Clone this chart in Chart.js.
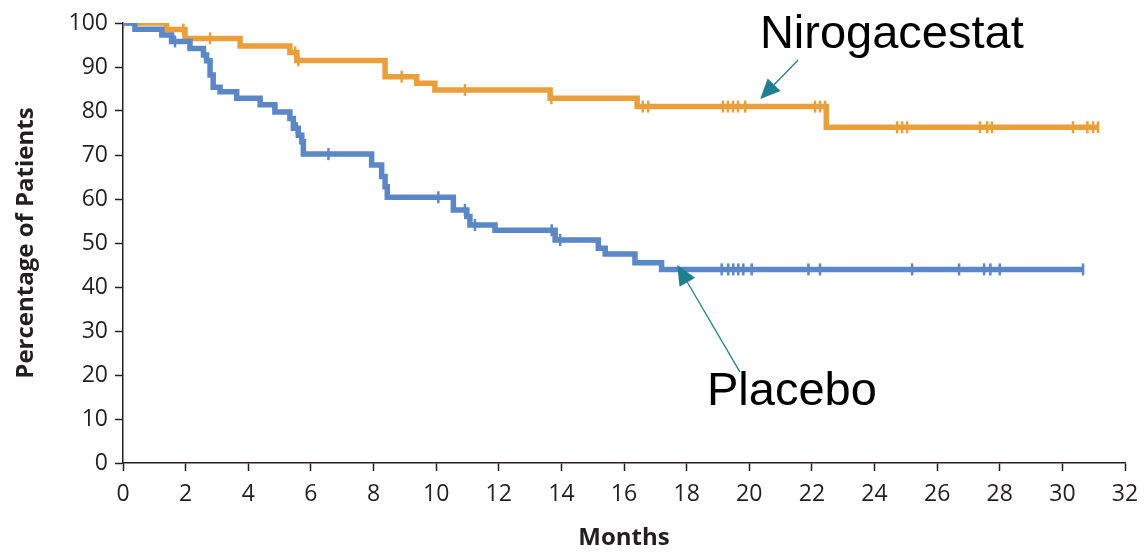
<!DOCTYPE html>
<html>
<head>
<meta charset="utf-8">
<script src="https://cdn.jsdelivr.net/npm/chart.js@4.4.1/dist/chart.umd.min.js"></script>
<style>
  html, body { margin: 0; padding: 0; background: #ffffff; }
  #wrap { width: 1145px; height: 553px; position: relative; }
</style>
</head>
<body>
<div id="wrap"><canvas id="c" width="1145" height="553"></canvas></div>
<script>
// ---- Data ----
const xTickLabels = [0, 2, 4, 6, 8, 10, 12, 14, 16, 18, 20, 22, 24, 26, 28, 30, 32];
const yTickLabels = [0, 10, 20, 30, 40, 50, 60, 70, 80, 90, 100];

const nirogacestatTimes = [0, 1.39, 1.98, 3.74, 5.33, 5.55, 8.37, 9.38, 9.96, 13.64, 16.42, 22.46, 31.14];
const nirogacestatSurv  = [100, 98.5, 96.5, 94.8, 93.3, 91.5, 87.8, 86.3, 84.8, 82.9, 81.0, 76.3, 76.3];
const nirogacestatCensor = [1.93, 2.78, 5.5, 5.6, 8.9, 10.92, 13.68, 16.6, 16.77, 19.16, 19.32, 19.48, 19.64, 19.87,
                            22.1, 22.26, 22.42, 24.72, 24.88, 25.04, 27.37, 27.6, 27.75, 30.34, 30.8, 30.98, 31.14];

const placeboTimes = [0, 0.38, 1.24, 1.55, 2.14, 2.57, 2.67, 2.78, 2.88, 3.1, 3.63, 4.38, 4.85, 5.33, 5.44, 5.6, 5.71, 5.76,
                      7.94, 8.26, 8.37, 8.44, 10.55, 10.98, 11.08, 11.88, 13.8, 15.18, 15.4, 16.35, 17.2, 30.66];
const placeboSurv  = [100, 98.6, 97.3, 95.8, 94.2, 92.7, 91.4, 88.2, 85.4, 84.4, 82.9, 81.4, 79.8, 78.3, 76.1, 74.5, 73.0, 70.2,
                      67.7, 65.1, 62.8, 60.4, 57.5, 56.0, 54.1, 52.9, 50.7, 48.8, 47.5, 45.5, 44.0, 44.0];
const placeboCensor = [0, 1.66, 5.55, 6.56, 10.07, 10.92, 11.24, 13.69, 13.96, 19.12, 19.33, 19.49, 19.65, 19.81, 20.08,
                       21.89, 22.26, 25.2, 26.7, 27.5, 27.7, 28.0, 30.66];

const seriesNames = ['Nirogacestat', 'Placebo'];

// ---- Styling ----
const ORANGE = '#E9A03C';
const BLUE = '#5B87C6';
const TEAL = '#1F7F8E';
const INK = '#231F20';

// helpers building library data from the arrays above
function toPoints(times, surv) { return times.map((t, i) => ({ x: t, y: surv[i] })); }
function valueAt(times, surv, t) {
  let v = surv[0];
  for (let i = 0; i < times.length; i++) { if (times[i] <= t) v = surv[i]; }
  return v;
}
function censorPoints(censor, times, surv) { return censor.map(t => ({ x: t, y: valueAt(times, surv, t) })); }

const annotations = {
  labels: [
    { text: seriesNames[0], x: 20.34, y: 94.3 },
    { text: seriesNames[1], x: 18.65, y: 13.2 }
  ],
  arrows: [
    { from: [21.56, 91.6], to: [20.35, 82.7] },
    { from: [19.7, 20.7], to: [17.7, 45.0] }
  ]
};

const annotationPlugin = {
  id: 'kmAnnotations',
  afterDatasetsDraw(chart) {
    const { ctx, scales: { x, y } } = chart;
    ctx.save();
    ctx.fillStyle = '#000000';
    ctx.font = '47px "Liberation Sans", Arial, sans-serif';
    ctx.textBaseline = 'alphabetic';
    ctx.textAlign = 'left';
    annotations.labels.forEach(l => ctx.fillText(l.text, x.getPixelForValue(l.x), y.getPixelForValue(l.y)));
    annotations.arrows.forEach(a => {
      const x1 = x.getPixelForValue(a.from[0]), y1 = y.getPixelForValue(a.from[1]);
      const x2 = x.getPixelForValue(a.to[0]), y2 = y.getPixelForValue(a.to[1]);
      const ang = Math.atan2(y2 - y1, x2 - x1);
      const headLen = 20, headW = 9;
      const bx = x2 - headLen * Math.cos(ang), by = y2 - headLen * Math.sin(ang);
      ctx.strokeStyle = TEAL;
      ctx.lineWidth = 1.3;
      ctx.beginPath(); ctx.moveTo(x1, y1); ctx.lineTo(bx, by); ctx.stroke();
      ctx.fillStyle = TEAL;
      ctx.beginPath();
      ctx.moveTo(x2, y2);
      ctx.lineTo(bx + headW * Math.sin(ang), by - headW * Math.cos(ang));
      ctx.lineTo(bx - headW * Math.sin(ang), by + headW * Math.cos(ang));
      ctx.closePath(); ctx.fill();
      ctx.fillStyle = '#000000';
    });
    ctx.restore();
  }
};

const tickFont = { family: '"Open Sans", "DejaVu Sans", sans-serif', size: 23 };
const titleFont = { family: '"Open Sans", "DejaVu Sans", sans-serif', size: 24, weight: 'bold' };

new Chart(document.getElementById('c'), {
  type: 'line',
  data: {
    datasets: [
      { label: seriesNames[0], data: toPoints(nirogacestatTimes, nirogacestatSurv), stepped: 'before',
        borderColor: ORANGE, borderWidth: 5.5, pointRadius: 0, fill: false, order: 2 },
      { label: seriesNames[1], data: toPoints(placeboTimes, placeboSurv), stepped: 'before',
        borderColor: BLUE, borderWidth: 5.5, pointRadius: 0, fill: false, order: 1 },
      { label: seriesNames[0] + ' censored', type: 'scatter', data: censorPoints(nirogacestatCensor, nirogacestatTimes, nirogacestatSurv),
        pointStyle: 'line', rotation: 90, pointRadius: 6, borderColor: ORANGE, backgroundColor: ORANGE, pointBorderWidth: 2.5, showLine: false, order: 0 },
      { label: seriesNames[1] + ' censored', type: 'scatter', data: censorPoints(placeboCensor, placeboTimes, placeboSurv),
        pointStyle: 'line', rotation: 90, pointRadius: 6, borderColor: BLUE, backgroundColor: BLUE, pointBorderWidth: 2.5, showLine: false, order: 0 }
    ]
  },
  options: {
    responsive: false,
    animation: false,
    events: [],
    layout: { padding: { top: 23, right: 20, left: 0, bottom: 0 } },
    plugins: { legend: { display: false }, tooltip: { enabled: false } },
    scales: {
      x: {
        type: 'linear', min: 0, max: 32,
        afterBuildTicks: s => { s.ticks = xTickLabels.map(v => ({ value: v })); },
        afterFit: s => { s.height = 90; s.paddingRight = 0; },
        grid: { display: true, drawOnChartArea: false, drawTicks: true, tickLength: 8, tickWidth: 1.5, tickColor: INK },
        border: { display: true, color: INK, width: 1.5 },
        ticks: { color: INK, font: tickFont, padding: 10, maxRotation: 0, autoSkip: false },
        title: { display: true, text: 'Months', color: INK, font: titleFont, padding: { top: 0, bottom: 0 } }
      },
      y: {
        type: 'linear', min: 0, max: 100,
        afterBuildTicks: s => { s.ticks = yTickLabels.map(v => ({ value: v })); },
        afterFit: s => { s.width = 123; },
        grid: { display: true, drawOnChartArea: false, drawTicks: true, tickLength: 8, tickWidth: 1.5, tickColor: INK },
        border: { display: true, color: INK, width: 1.5 },
        ticks: { color: INK, font: tickFont, padding: 7, autoSkip: false },
        title: { display: true, text: 'Percentage of Patients', color: INK, font: titleFont, padding: { top: 12, bottom: 0 } }
      }
    }
  },
  plugins: [annotationPlugin]
});
</script>
</body>
</html>
